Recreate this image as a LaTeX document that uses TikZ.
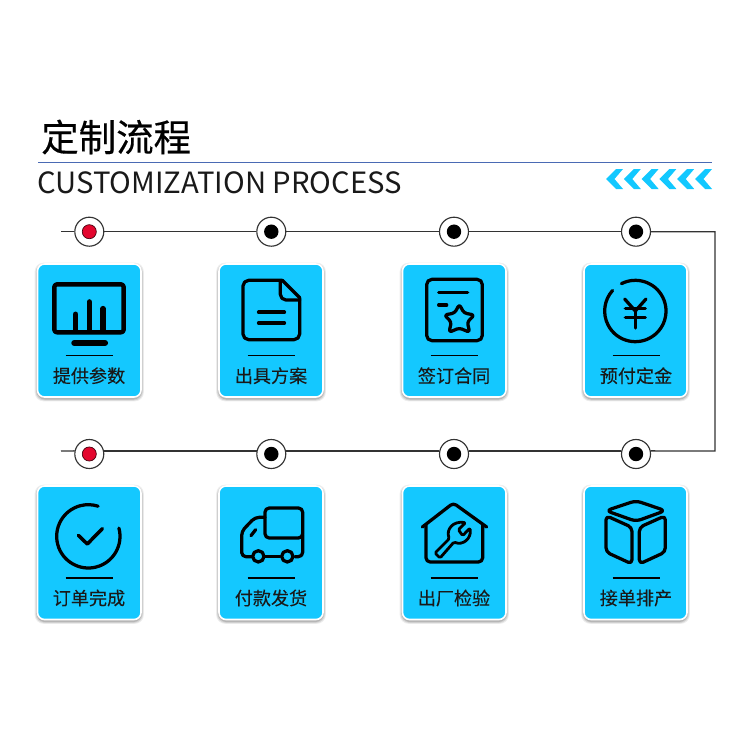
\documentclass[tikz,border=0pt]{standalone}
\usepackage{fontspec}
\newfontfamily\cjk{Noto Sans CJK SC}
\newfontfamily\cjklabel[FakeBold=0.1]{Noto Sans CJK SC}
\newfontfamily\cjktitle[FakeBold=0.3]{Noto Sans CJK SC}
\usetikzlibrary{calc}
\definecolor{cardblue}{HTML}{14C8FF}
\definecolor{chevblue}{HTML}{12C8FF}
\definecolor{rule}{HTML}{4A6AB4}
\definecolor{wire}{HTML}{333333}
\definecolor{reddot}{HTML}{E3062E}
\tikzset{
  x=0.02cm,y=-0.02cm,
  ring/.style={circle,draw=wire,fill=white,line width=0.65pt,minimum size=16.5pt,inner sep=0pt},
  blackdot/.style={circle,fill=black,minimum size=8.2pt,inner sep=0pt},
  reddotn/.style={circle,fill=reddot,draw=black!70!reddot,line width=0.4pt,minimum size=8pt,inner sep=0pt},
  card/.style={rounded corners=4pt,fill=cardblue,draw=white,line width=0.9pt},
  cardlabel/.style={font=\cjklabel\fontsize{10.3}{12}\selectfont,text=black!90,inner sep=0pt},
  wireline/.style={draw=wire,line width=0.72pt},
  sep/.style={draw=black,line width=0.75pt},
  icon/.style={draw=black,line width=1.85pt,line cap=round,line join=round},
}
\newcommand{\mkcard}[5]{% x0,y0,x1,y1,name
  \foreach \o/\g in {0.07/2.8,0.10/2.0,0.14/1.1}{
    \fill[black,opacity=\o,rounded corners=5pt] (#1-\g,#2-\g+1.5) rectangle (#3+\g,#4+\g+1.5);
  }
  \path[card] (#1,#2) rectangle (#3,#4);
}
\begin{document}
\begin{tikzpicture}
\useasboundingbox (0,0) rectangle (750,750);
\fill[white] (0,0) rectangle (750,750);

% header
\node[anchor=west,inner sep=0pt,font=\cjktitle\fontsize{21.3}{24}\selectfont] (title) at (41,137) {定制流程};
\coordinate (ruleL) at (38,162.5);
\coordinate (ruleR) at (712,162.5);
\draw[rule,line width=0.6pt] (ruleL) -- (ruleR);
\node[anchor=west,inner sep=0pt,font=\cjk\fontsize{16.65}{20}\selectfont,text=black!90] (subtitle) at (37,182.5) {CUSTOMIZATION PROCESS};
\foreach \i in {0,...,5}{
  \fill[chevblue] ({606+17.8*\i},179) -- ({616+17.8*\i},169) -- ({623+17.8*\i},169) -- ({614.5+17.8*\i},179) -- ({623+17.8*\i},189) -- ({616+17.8*\i},189) -- cycle;
}

% cards
\mkcard{37.5}{264}{141}{397}{}
\mkcard{219}{264}{323}{397}{}
\mkcard{402.5}{264}{506}{397}{}
\mkcard{584}{264}{687}{397}{}
\mkcard{37.5}{486}{141}{619.5}{}
\mkcard{219}{486}{323}{619.5}{}
\mkcard{402.5}{486}{506}{619.5}{}
\mkcard{584}{486}{687}{619.5}{}

% track nodes
\node[ring] (n1) at (89.3,231.7) {};
\node[ring] (n2) at (271.3,231.7) {};
\node[ring] (n3) at (454,231.7) {};
\node[ring] (n4) at (636,231.7) {};
\node[ring] (n5) at (89.3,454) {};
\node[ring] (n6) at (271.3,454) {};
\node[ring] (n7) at (454,454) {};
\node[ring] (n8) at (636,454) {};
\node[reddotn] (d1) at (n1) {};
\node[blackdot] (d2) at (n2) {};
\node[blackdot] (d3) at (n3) {};
\node[blackdot] (d4) at (n4) {};
\node[reddotn] (d5) at (n5) {};
\node[blackdot] (d6) at (n6) {};
\node[blackdot] (d7) at (n7) {};
\node[blackdot] (d8) at (n8) {};
\coordinate (L1) at (61,231.7);
\coordinate (R1) at (715,231.7);
\coordinate (R2) at (715,451);
\coordinate (L2) at (61,451);
\draw[wireline] (L1) -- (n1);
\draw[wireline] (n1) -- (n2);
\draw[wireline] (n2) -- (n3);
\draw[wireline] (n3) -- (n4);
\draw[wireline,line join=miter] (n4) -- (R1) -- (R2) -- (n8.12);
\draw[wireline] (n8.168) -- (n7.12);
\draw[wireline] (n7.168) -- (n6.12);
\draw[wireline] (n6.168) -- (n5.12);
\draw[wireline] (n5.168) -- (L2);

% separators and labels
\foreach \cx/\cy/\t/\nm in {89/375.7/提供参数/a1,271/375.7/出具方案/a2,454/375.7/签订合同/a3,636/375.7/预付定金/a4,89/598/订单完成/a5,271/598/付款发货/a6,454/598/出厂检验/a7,636/598/接单排产/a8}{
  \node[cardlabel] (\nm) at (\cx,\cy) {\t};
  \draw[sep] (\cx-23.5,\cy-20) -- (\cx+23.5,\cy-20);
}

% icon 1 monitor
\begin{scope}[shift={(25,255)},scale=1/3]
  \draw[icon,line width=2.5pt,rounded corners=1.5pt] (88,88) rectangle (296,232);
  \draw[icon,line width=3.2pt] (152,225) -- (152,178);
  \draw[icon,line width=3.2pt] (193,225) -- (193,141);
  \draw[icon,line width=3.2pt] (234,225) -- (234,161);
  \draw[icon,line width=3.5pt] (148,264) -- (240,264);
% icon 2 document
  \draw[icon,rounded corners=3.2pt] (772,76) -- (654,76) -- (654,254) -- (824,254) -- (824,128);
  \draw[icon] (772,76) -- (824,128);
  \draw[icon,rounded corners=3.2pt] (766,78) -- (766,135) -- (824,135);
  \draw[icon,line width=2.1pt] (701,172) -- (778,172);
  \draw[icon,line width=2.1pt] (701,204) -- (778,204);
\end{scope}
\begin{scope}[shift={(390,255)},scale=1/3]
% icon 3 contract
  \draw[icon,rounded corners=3pt] (110,73) rectangle (277,257);
  \draw[icon] (146,113) -- (233,113);
  \draw[icon] (146,150) -- (170,150);
  \draw[icon,fill=cardblue,rounded corners=1.6pt] (208,148) -- (222,174) -- (253,180) -- (232,201) -- (239,232) -- (208,219) -- (177,232) -- (184,201) -- (163,180) -- (194,174) -- cycle;
% icon 4 yen
  \draw[icon] ([shift={(736,168)}]-117:92) arc[start angle=-117,end angle=222,radius=92];
  \draw[icon] (704,132) -- (736,168) -- (768,132);
  \draw[icon] (706,160) -- (766,160);
  \draw[icon] (706,188) -- (766,188);
  \draw[icon] (736,168) -- (736,219);
\end{scope}
\begin{scope}[shift={(25,478)},scale=1/3]
% icon 5 check
  \draw[icon] ([shift={(190,175)}]-15:95) arc[start angle=-15,end angle=288,radius=95];
  \draw[icon,line width=2pt] (160,172) -- (187,198) -- (232,152);
% icon 6 truck
  \draw[icon,rounded corners=2.4pt] (720,90) rectangle (833,180);
  \draw[icon,rounded corners=2.4pt] (720,118) -- (690,118) -- (650,160) -- (650,236) -- (690,236);
  \draw[icon,rounded corners=2.4pt] (833,170) -- (833,236) -- (810,236);
  \draw[icon] (720,236) -- (765,236);
  \draw[icon] (678,173) -- (692,155);
  \draw[icon,fill=cardblue] (700,235) circle[radius=17];
  \draw[icon,fill=cardblue] (787,235) circle[radius=17];
\end{scope}
\begin{scope}[shift={(390,478)},scale=1/3]
% icon 7 house
  \draw[icon,rounded corners=2pt] (97,147) -- (190,75) -- (290,147);
  \draw[icon,rounded corners=2.4pt] (108,140) -- (108,252) -- (278,252) -- (278,140);
  \draw[icon,line width=1.6pt,rounded corners=0.8pt] (150,240) -- (135,225) -- (178,182) .. controls (168,155) and (188,128) .. (227,134) -- (205,155) -- (218,173) -- (240,150) .. controls (245,182) and (218,203) .. (192,192) -- cycle;
% icon 8 box
  \draw[icon,rounded corners=3pt] (648,98) -- (738,68) -- (826,98) -- (738,130) -- cycle;
  \draw[icon,rounded corners=2.4pt] (648,113) -- (726,148) -- (726,258) -- (648,222) -- cycle;
  \draw[icon,rounded corners=2.4pt] (826,113) -- (748,148) -- (748,258) -- (826,222) -- cycle;
\end{scope}
\end{tikzpicture}
\end{document}
